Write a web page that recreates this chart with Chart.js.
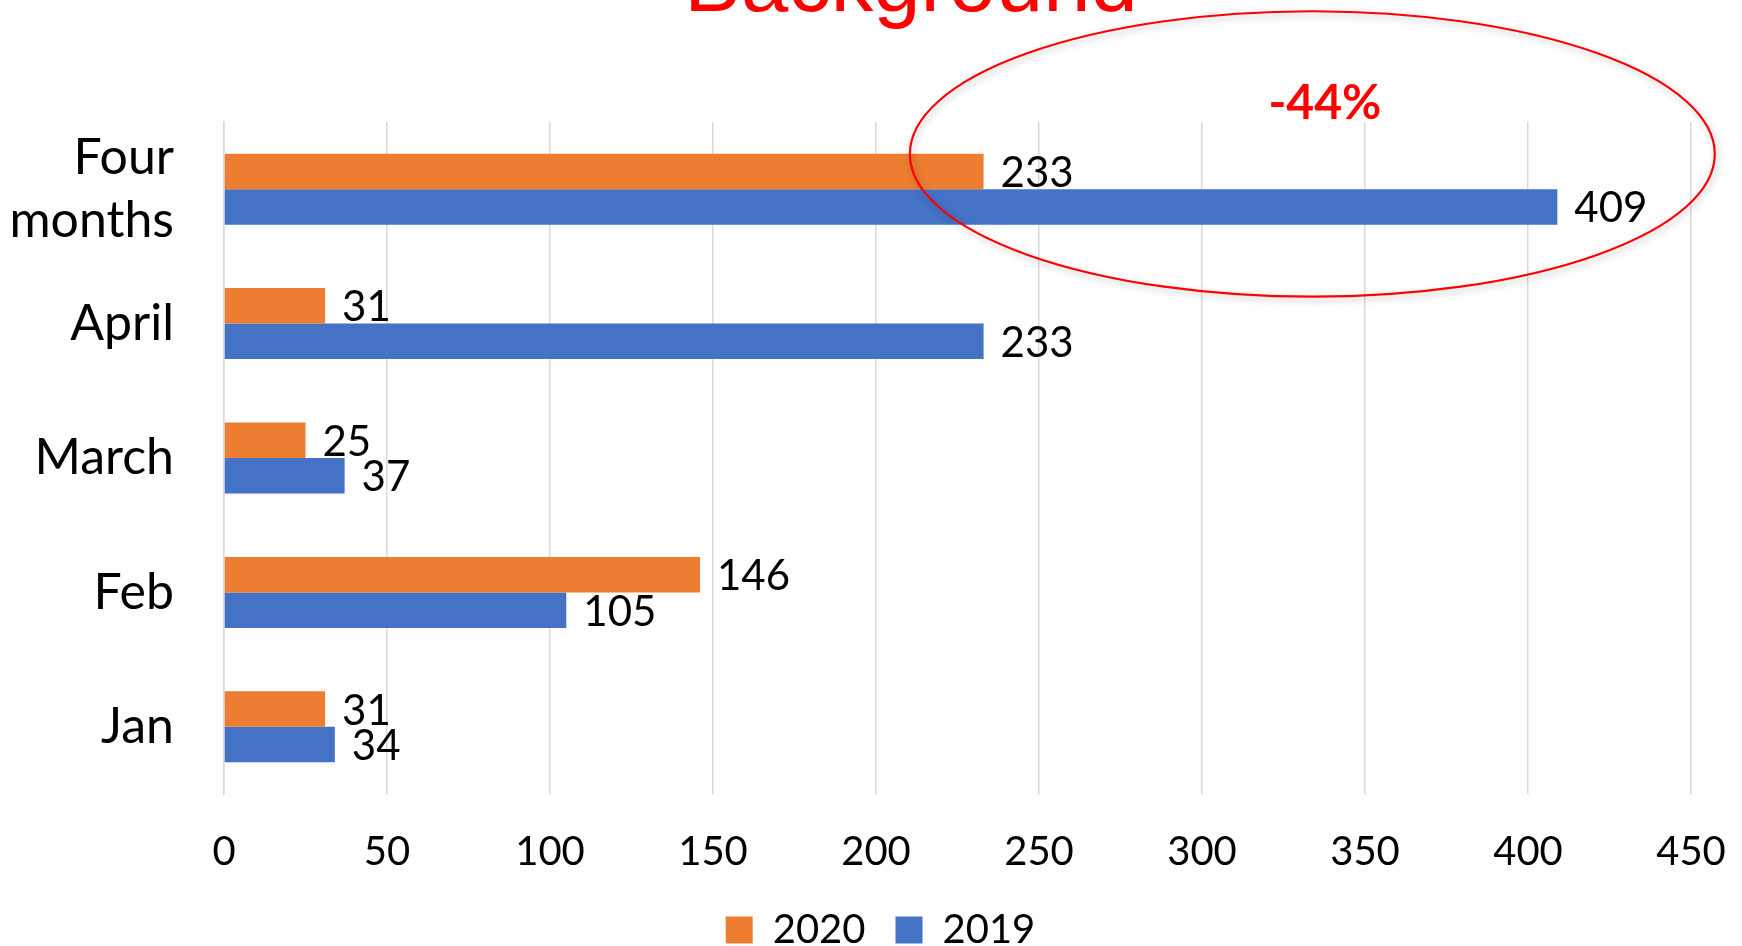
<!DOCTYPE html>
<html>
<head>
<meta charset="utf-8">
<script src="https://cdn.jsdelivr.net/npm/chart.js@4"></script>
<style>
  html, body { margin: 0; padding: 0; background: #ffffff; }
  #wrap { width: 1742px; height: 946px; position: relative; }
</style>
</head>
<body>
<div id="wrap"><canvas id="c"></canvas></div>
<script>
// ---- data ----
const categories = [['Four', 'months'], 'April', 'March', 'Feb', 'Jan'];
const values2020 = [233, 31, 25, 146, 31];
const values2019 = [409, 233, 37, 105, 34];
const seriesNames = ['2020', '2019'];
const xTicks = [0, 50, 100, 150, 200, 250, 300, 350, 400, 450];
const titleText = 'Background';
const calloutText = '-44%';

const ORANGE = '#ED7D31';
const BLUE = '#4472C4';

// draws value labels to the right of each bar
const valueLabels = {
  id: 'valueLabels',
  afterDatasetsDraw(chart) {
    const ctx = chart.ctx;
    ctx.save();
    ctx.font = '42px Lato';
    ctx.fillStyle = '#000000';
    ctx.textAlign = 'left';
    ctx.textBaseline = 'middle';
    chart.data.datasets.forEach((ds, di) => {
      const meta = chart.getDatasetMeta(di);
      meta.data.forEach((bar, i) => {
        ctx.fillText(String(ds.data[i]), bar.x + 17, bar.y + 2);
      });
    });
    ctx.restore();
  }
};

// slide title and red callout ellipse
const decorations = {
  id: 'decorations',
  afterLayout(chart) {
    const lg = chart.legend;
    if (lg) { lg.top += 14; lg.bottom += 14; lg.left += 35; lg.right += 35; }
  },
  afterDraw(chart) {
    const ctx = chart.ctx;
    const xs = chart.scales.x, ys = chart.scales.y;
    ctx.save();
    // title (partially cut off at the top)
    ctx.font = '85px "Liberation Sans"';
    ctx.fillStyle = '#FF0000';
    ctx.textAlign = 'center';
    ctx.textBaseline = 'alphabetic';
    ctx.fillText(titleText, 911, 11);

    // ellipse
    const x1 = xs.getPixelForValue(210.4), x2 = xs.getPixelForValue(457.3);
    const y1 = ys.getPixelForValue(-1.324), y2 = ys.getPixelForValue(0.80);
    ctx.beginPath();
    ctx.ellipse((x1 + x2) / 2, (y1 + y2) / 2, (x2 - x1) / 2, (y2 - y1) / 2, 0, 0, Math.PI * 2);
    ctx.shadowColor = 'rgba(0,0,0,0.28)';
    ctx.shadowBlur = 7;
    ctx.shadowOffsetX = 2;
    ctx.shadowOffsetY = 3;
    ctx.strokeStyle = '#FF0000';
    ctx.lineWidth = 2.2;
    ctx.stroke();
    ctx.shadowColor = 'transparent';

    // callout text
    ctx.font = 'bold 48px Lato';
    ctx.fillStyle = '#FF0000';
    ctx.textBaseline = 'middle';
    ctx.fillText(calloutText, xs.getPixelForValue(337.7), ys.getPixelForValue(-0.64));
    ctx.restore();
  }
};

new Chart(document.getElementById('c'), {
  type: 'bar',
  data: {
    labels: categories,
    datasets: [
      { label: seriesNames[0], data: values2020, backgroundColor: ORANGE, borderWidth: 0 },
      { label: seriesNames[1], data: values2019, backgroundColor: BLUE, borderWidth: 0 }
    ]
  },
  options: {
    indexAxis: 'y',
    responsive: true,
    maintainAspectRatio: false,
    animation: false,
    devicePixelRatio: 1,
    categoryPercentage: 0.528,
    barPercentage: 1.0,
    layout: { padding: { top: 122, right: 51, left: 0, bottom: 0 } },
    plugins: {
      title: { display: false },
      tooltip: { enabled: false },
      legend: {
        position: 'bottom',
        labels: {
          font: { family: 'Lato', size: 40 },
          color: '#000000',
          boxWidth: 27,
          boxHeight: 27,
          padding: 30
        }
      }
    },
    scales: {
      x: {
        type: 'linear',
        min: 0,
        max: 450,
        afterBuildTicks(scale) { scale.ticks = xTicks.map(v => ({ value: v })); },
        afterFit(scale) { scale.height = 72; scale.paddingRight = 0; scale.paddingLeft = 0; },
        grid: { color: '#d9d9d9', lineWidth: 1.5, drawTicks: false },
        border: { display: false },
        ticks: {
          font: { family: 'Lato', size: 40 },
          color: '#000000',
          padding: 34,
          maxRotation: 0,
          autoSkip: false
        }
      },
      y: {
        afterFit(scale) { scale.width = 224; },
        grid: { display: false, drawTicks: false },
        border: { display: true, color: '#d9d9d9', width: 1.5 },
        ticks: {
          font: { family: 'Lato', size: 50, lineHeight: 1.26 },
          color: '#000000',
          padding: 50,
          autoSkip: false
        }
      }
    }
  },
  plugins: [valueLabels, decorations]
});
</script>
</body>
</html>
